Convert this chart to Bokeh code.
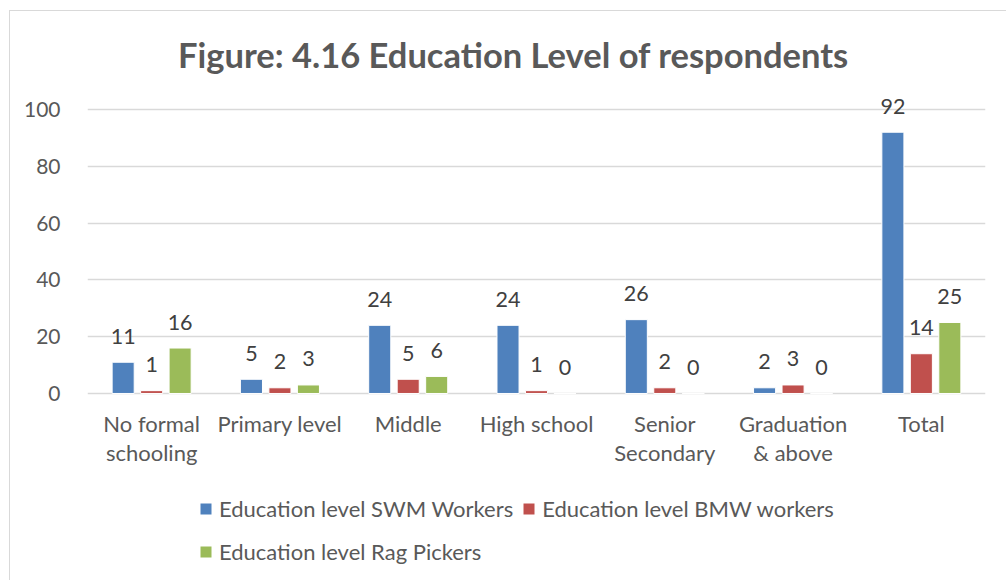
from bokeh.plotting import figure
from bokeh.models import (ColumnDataSource, Range1d, FixedTicker, Legend, LegendItem)
from bokeh.core.properties import value
from bokeh.embed import file_html
from bokeh.resources import INLINE

# --- data ---
categories = ["No formal\nschooling", "Primary level", "Middle", "High school",
              "Senior\nSecondary", "Graduation\n& above", "Total"]
swm_workers = [11, 5, 24, 24, 26, 2, 92]
bmw_workers = [1, 2, 5, 1, 2, 3, 14]
rag_pickers = [16, 3, 6, 0, 0, 0, 25]
series_names = ["Education level SWM Workers", "Education level BMW workers",
                "Education level Rag Pickers"]
series_colors = ["#4F81BD", "#C0504D", "#9BBB59"]
y_ticks = [0, 20, 40, 60, 80, 100]
title_text = "Figure: 4.16 Education Level of respondents"

FONT = "Lato"
TEXT_GREY = "#595959"
LABEL_GREY = "#404040"
GRID_GREY = "#D9D9D9"

# the frame runs from the title down to the legend; only 0..100 gets ticks/grid
p = figure(width=997, height=570, output_backend="svg", toolbar_location=None,
           x_range=Range1d(0, len(categories)), y_range=Range1d(-64.1, 124.3),
           min_border_left=77, min_border_right=22, min_border_top=29,
           min_border_bottom=6)
p.styles = {"margin-left": "9px", "margin-top": "10px",
            "border-left": "1px solid #D9D9D9", "border-top": "1px solid #D9D9D9"}
p.outline_line_color = None
p.background_fill_color = "white"
p.border_fill_color = "white"

p.xaxis.visible = False

p.yaxis.ticker = FixedTicker(ticks=y_ticks)
p.yaxis.axis_line_color = None
p.yaxis.major_tick_line_color = None
p.yaxis.minor_tick_line_color = None
p.yaxis.major_label_text_font = FONT
p.yaxis.major_label_text_font_size = "21px"
p.yaxis.major_label_text_color = TEXT_GREY
p.yaxis.major_label_standoff = 21

p.xgrid.grid_line_color = None
p.ygrid.grid_line_color = GRID_GREY
p.ygrid.grid_line_width = 1.5

# category labels under the baseline
cat_src = ColumnDataSource(dict(x=[i + 0.5 for i in range(len(categories))],
                                y=[0] * len(categories), text=categories))
p.text(x="x", y="y", text="text", source=cat_src, text_font=value(FONT),
       text_font_size="22px", text_color=TEXT_GREY, text_align="center",
       text_baseline="top", text_line_height=1.06, y_offset=17)

# grouped bars
offsets = [-0.222, 0.0, 0.222]
bar_w = 0.172
series = [swm_workers, bmw_workers, rag_pickers]
legend_items = []
for vals, name, color, off in zip(series, series_names, series_colors, offsets):
    xs = [i + 0.5 + off for i in range(len(categories))]
    src = ColumnDataSource(dict(x=xs, top=vals, label=[str(v) for v in vals]))
    r = p.vbar(x="x", top="top", bottom=0, width=bar_w, source=src,
               fill_color=color, line_color="white", line_width=1)
    p.text(x="x", y="top", text="label", source=src, text_font=value(FONT),
           text_font_size="21.5px", text_color=LABEL_GREY, text_align="center",
           text_baseline="alphabetic", y_offset=-26)
    legend_items.append(LegendItem(label=name, renderers=[r]))

# chart title
p.text(x=[3.32], y=[119.5], text=[title_text], text_font=value(FONT),
       text_font_size="34.5px", text_font_style="bold", text_color=TEXT_GREY,
       text_align="center", text_baseline="middle")

legend = Legend(items=legend_items, ncols=2, orientation="horizontal",
                location=(111, 6), padding=0, margin=0, spacing=8,
                glyph_width=15, glyph_height=15, label_standoff=6,
                label_height=35, label_text_font=FONT,
                label_text_font_size="22px", label_text_color=TEXT_GREY,
                border_line_color=None, background_fill_alpha=0)
p.add_layout(legend, "center")

open("out.html", "w").write(file_html(p, INLINE))
